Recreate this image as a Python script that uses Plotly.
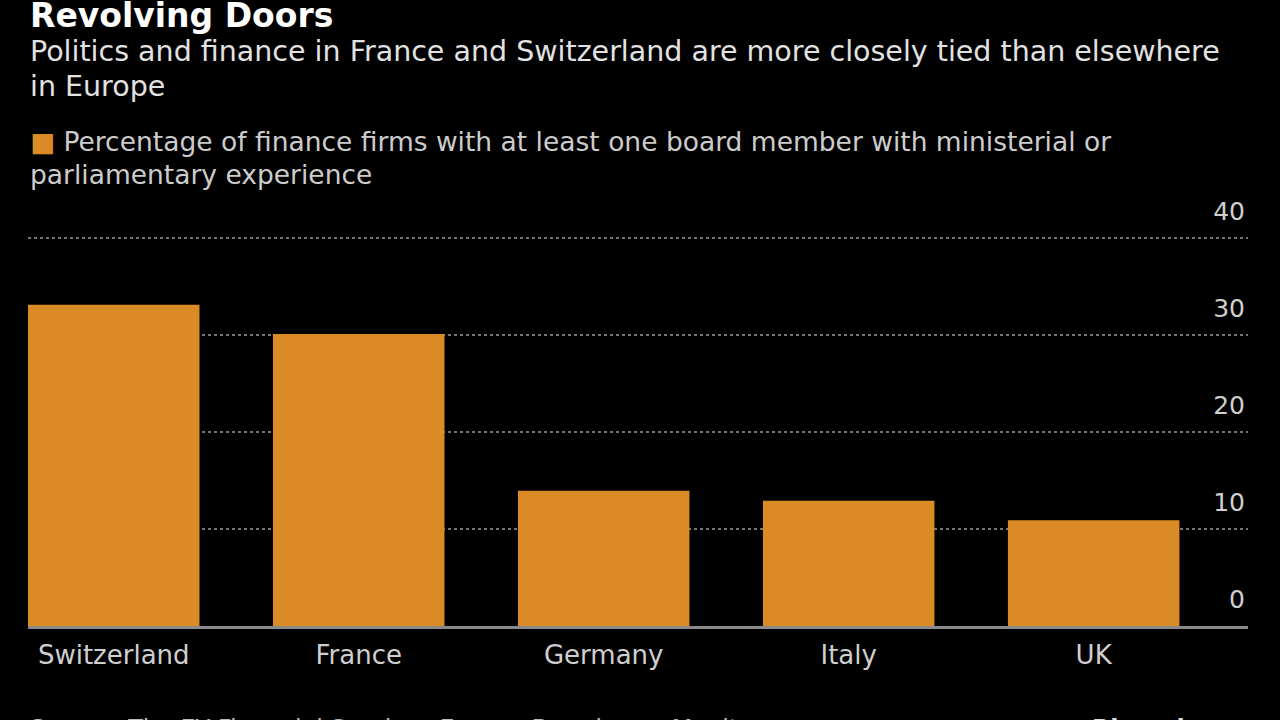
import plotly.graph_objects as go

countries = ["Switzerland", "France", "Germany", "Italy", "UK"]
pct_board_political = [33.1, 30.1, 13.95, 12.9, 10.9]
y_tick_vals = [0, 10, 20, 30, 40]
y_tick_text = ["0", "10", "20", "30", "40"]

title_text = "Revolving Doors"
subtitle_lines = ["Politics and finance in France and Switzerland are more closely tied than elsewhere",
                  "in Europe"]
legend_lines = ["Percentage of finance firms with at least one board member with ministerial or",
                "parliamentary experience"]
source_text = "Source: The EY Financial Services Europe Boardroom Monitor"
brand_text = "Bloomberg"

BAR = "#db8b26"
FONT = "DejaVu Sans"

Y_MAX = 47
PX_PER_UNIT = 9.7
PLOT_BOTTOM = 626
PLOT_TOP = round(PLOT_BOTTOM - Y_MAX * PX_PER_UNIT)
H = PLOT_BOTTOM - PLOT_TOP


def py(px):
    return (PLOT_BOTTOM - px) / H


fig = go.Figure()
fig.add_trace(go.Bar(
    x=countries, y=pct_board_political,
    marker=dict(color=BAR, line=dict(width=0)),
    showlegend=False, hoverinfo="x+y",
))

fig.update_layout(
    width=1280, height=720,
    paper_bgcolor="#000000", plot_bgcolor="#000000",
    margin=dict(l=28, r=32, t=PLOT_TOP, b=720 - PLOT_BOTTOM, pad=0),
    bargap=0.30,
    font=dict(family=FONT, color="#cccccc", size=25),
    showlegend=False,
)
fig.update_xaxes(
    range=[-0.35, 4.63],
    showgrid=False, zeroline=False,
    showline=True, linecolor="#8a8a8a", linewidth=3,
    ticks="", tickfont=dict(size=26, color="#cfcfcf", family=FONT),
    ticklabelstandoff=4,
    layer="below traces",
    fixedrange=True,
)
fig.update_yaxes(
    range=[0, Y_MAX], side="right",
    tickvals=y_tick_vals, ticktext=y_tick_text,
    ticklabelposition="inside", ticklabelshift=-27,
    ticks="", tickfont=dict(size=25, color="#cfcfcf", family=FONT),
    showgrid=True, gridcolor="#777777", gridwidth=2, griddash="dot",
    zeroline=False, showline=False,
    layer="below traces",
    fixedrange=True,
)

fig.add_annotation(text="<b>" + title_text + "</b>", xref="paper", yref="paper",
                   x=0, y=py(15), xanchor="left", yanchor="middle", showarrow=False,
                   font=dict(size=33, color="#ffffff", family=FONT), align="left")
for line, ypx in zip(subtitle_lines, [52, 86]):
    fig.add_annotation(text=line, xref="paper", yref="paper",
                       x=0, y=py(ypx), xanchor="left", yanchor="middle", showarrow=False,
                       font=dict(size=28.5, color="#e2e2e2", family=FONT), align="left")
legend_texts = ['<span style="color:%s">■</span> ' % BAR + legend_lines[0], legend_lines[1]]
for line, ypx in zip(legend_texts, [141, 174]):
    fig.add_annotation(text=line, xref="paper", yref="paper",
                       x=0, y=py(ypx), xanchor="left", yanchor="middle", showarrow=False,
                       font=dict(size=26.5, color="#cccccc", family=FONT), align="left")
fig.add_annotation(text=source_text, xref="paper", yref="paper",
                   x=0, y=py(729), xanchor="left", yanchor="middle", showarrow=False,
                   font=dict(size=24, color="#bbbbbb", family=FONT), align="left")
fig.add_annotation(text="<b>" + brand_text + "</b>", xref="paper", yref="paper",
                   x=0.994, y=py(729), xanchor="right", yanchor="middle", showarrow=False,
                   font=dict(size=24, color="#dddddd", family=FONT), align="right")

fig.write_html("out.html", config={"displayModeBar": False},
               post_script="document.body.style.margin='0';")
